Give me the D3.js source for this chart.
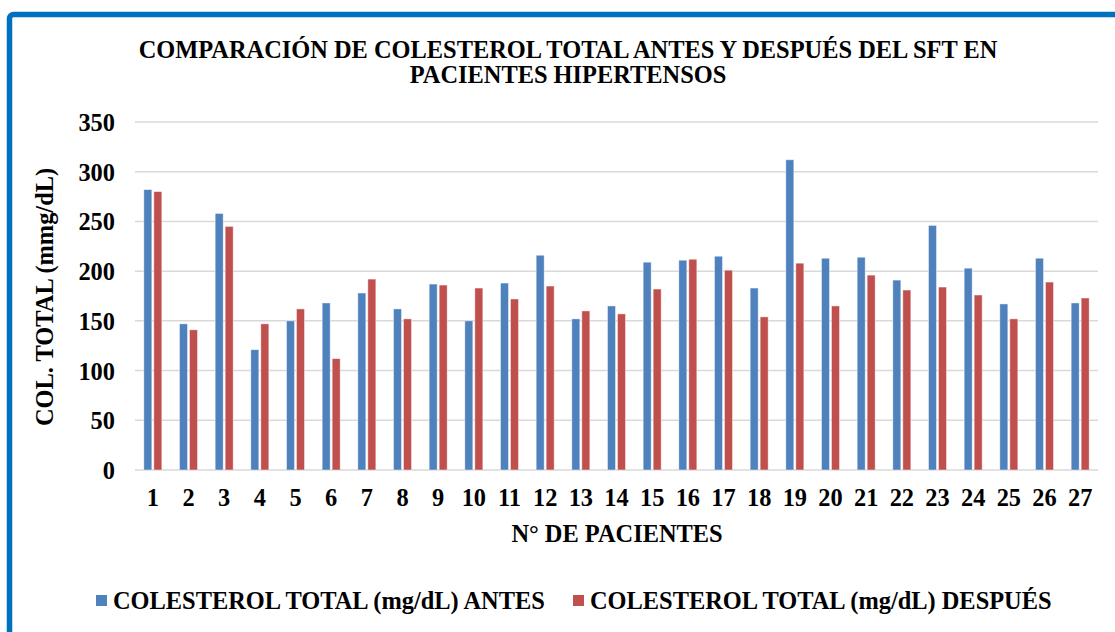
<!DOCTYPE html>
<html>
<head>
<meta charset="utf-8">
<script src="https://cdn.jsdelivr.net/npm/d3@7"></script>
<style>
  body { margin: 0; background: #fff; }
  svg text { font-family: "Liberation Serif", "Times New Roman", serif; font-weight: bold; fill: #000; }
</style>
</head>
<body>
<div id="chart"></div>
<script>
/** data **/
var pacientes = d3.range(1, 28).map(String);
var antes = [282, 147, 258, 121, 150, 168, 178, 162, 187, 150, 188, 216, 152, 165,
             209, 211, 215, 183, 312, 213, 214, 191, 246, 203, 167, 213, 168];
var despues = [280, 141, 245, 147, 162, 112, 192, 152, 186, 183, 172, 185, 160, 157,
               182, 212, 201, 154, 208, 165, 196, 181, 184, 176, 152, 189, 173];
var yTicks = [0, 50, 100, 150, 200, 250, 300, 350];
var seriesNames = ["COLESTEROL TOTAL (mg/dL) ANTES", "COLESTEROL TOTAL (mg/dL) DESPUÉS"];
var seriesColors = ["#4F81BD", "#C0504D"];

var width = 1115, height = 632;
var margin = {left: 135, right: 17, top: 122, bottom: 162};
var fontSize = "24.4px";

var svg = d3.select("#chart").append("svg")
    .attr("width", width)
    .attr("height", height);

// frame
svg.append("rect")
    .attr("x", 9.5).attr("y", 14.5)
    .attr("width", width + 20).attr("height", height + 20)
    .attr("rx", 4)
    .style("fill", "none")
    .style("stroke", "#0070C0")
    .style("stroke-width", 5.5);

// title
var title = svg.append("text")
    .attr("text-anchor", "middle")
    .style("font-size", fontSize);
title.append("tspan").attr("x", 568).attr("y", 58)
    .text("COMPARACIÓN DE COLESTEROL TOTAL ANTES Y DESPUÉS DEL SFT EN");
title.append("tspan").attr("x", 568).attr("y", 83)
    .text("PACIENTES HIPERTENSOS");

var x = d3.scaleBand()
    .domain(pacientes)
    .range([margin.left, width - margin.right]);

var y = d3.scaleLinear()
    .domain([0, 350])
    .range([height - margin.bottom, margin.top]);

// gridlines
svg.append("g")
    .selectAll("line")
    .data(yTicks)
    .enter().append("line")
    .attr("x1", margin.left)
    .attr("x2", width - margin.right)
    .attr("y1", function(d) { return y(d); })
    .attr("y2", function(d) { return y(d); })
    .style("stroke", "#D9D9D9")
    .style("stroke-width", 1.5);

// y axis labels
var yAxis = svg.append("g")
    .attr("transform", "translate(" + (margin.left - 20) + ",0)")
    .call(d3.axisLeft(y).tickValues(yTicks).tickSize(0).tickPadding(0));
yAxis.select(".domain").remove();
yAxis.selectAll("text")
    .style("font-size", fontSize)
    .style("font-family", "'Liberation Serif', serif")
    .attr("dy", "0.35em");

// x axis labels
var xAxis = svg.append("g")
    .attr("transform", "translate(0," + y(0) + ")")
    .call(d3.axisBottom(x).tickSize(0).tickPadding(19));
xAxis.select(".domain").remove();
xAxis.selectAll("text")
    .style("font-size", fontSize)
    .style("font-family", "'Liberation Serif', serif");

// bars
var barW = 8, gap = 2;
var data = pacientes.map(function(p, i) { return {p: p, v: [antes[i], despues[i]]}; });

var groups = svg.append("g").selectAll(".grupo")
    .data(data)
    .enter().append("g")
    .attr("class", "grupo")
    .attr("transform", function(d) { return "translate(" + (x(d.p) + x.bandwidth() / 2) + ",0)"; });

groups.selectAll("rect")
    .data(function(d) { return d.v; })
    .enter().append("rect")
    .attr("x", function(d, i) { return i == 0 ? -barW - gap / 2 : gap / 2; })
    .attr("y", function(d) { return y(d); })
    .attr("width", barW)
    .attr("height", function(d) { return y(0) - y(d); })
    .style("fill", function(d, i) { return seriesColors[i]; })
    .style("stroke", "rgba(255,255,255,0.55)")
    .style("stroke-width", 0.8);

// axis titles
svg.append("text")
    .attr("text-anchor", "middle")
    .attr("transform", "translate(53,297) rotate(-90)")
    .style("font-size", fontSize)
    .text("COL. TOTAL (mmg/dL)");

svg.append("text")
    .attr("text-anchor", "middle")
    .attr("x", 617).attr("y", 542)
    .style("font-size", fontSize)
    .text("N° DE PACIENTES");

// legend
var legendX = [96, 573];
var legend = svg.append("g").selectAll(".leg")
    .data(seriesNames)
    .enter().append("g")
    .attr("class", "leg")
    .attr("transform", function(d, i) { return "translate(" + legendX[i] + ",595)"; });
legend.append("rect")
    .attr("width", 11).attr("height", 11)
    .style("fill", function(d, i) { return seriesColors[i]; });
legend.append("text")
    .attr("x", 17).attr("y", 14)
    .style("font-size", fontSize)
    .text(function(d) { return d; });
</script>
</body>
</html>
